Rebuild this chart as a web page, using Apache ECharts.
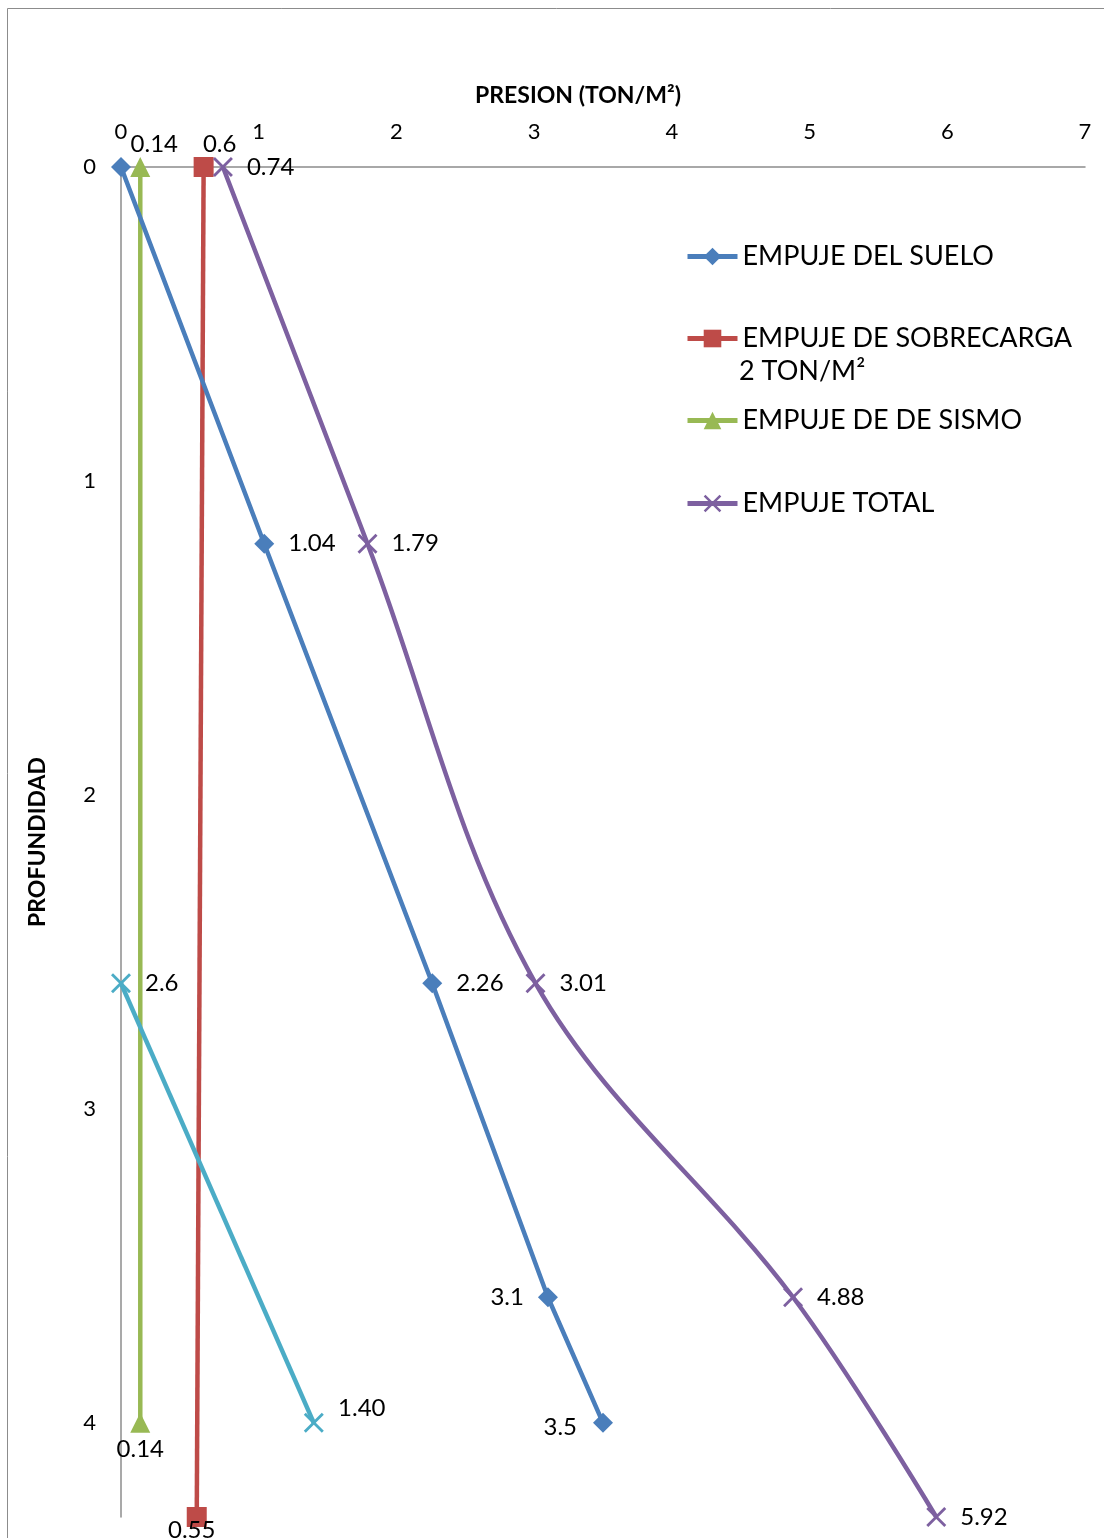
<!DOCTYPE html>
<html>
<head>
<meta charset="utf-8">
<script src="https://cdn.jsdelivr.net/npm/echarts@6/dist/echarts.min.js"></script>
<style>html,body{margin:0;padding:0;background:#fff}#c{width:1104px;height:1538px}</style>
</head>
<body>
<div id="c"></div>
<script>
// ---- data ----
const seriesNames = ['EMPUJE DEL SUELO', 'EMPUJE DE SOBRECARGA', 'EMPUJE DE DE SISMO', 'EMPUJE TOTAL', 'EMPUJE SISMO 2'];
const soilX = [0, 1.04, 2.26, 3.1, 3.5];
const soilY = [0, 1.2, 2.6, 3.6, 4.0];
const soilLabels = ['', '1.04', '2.26', '3.1', '3.5'];
const surX = [0.6, 0.55];
const surY = [0, 4.3];
const surLabels = ['0.6', '0.55'];
const sisX = [0.14, 0.14];
const sisY = [0, 4.0];
const sisLabels = ['0.14', '0.14'];
const totX = [0.74, 1.79, 3.01, 4.88, 5.92];
const totY = [0, 1.2, 2.6, 3.6, 4.3];
const totLabels = ['0.74', '1.79', '3.01', '4.88', '5.92'];
const cyX = [0, 1.40];
const cyY = [2.6, 4.0];
const cyLabels = ['2.6', '1.40'];
const xTicks = [0, 1, 2, 3, 4, 5, 6, 7];
const yTicks = [0, 1, 2, 3, 4];

// ---- styles ----
const FONT = 'Lato';
const crossPath = 'path://M0,1 L1,0 L5,4 L9,0 L10,1 L6,5 L10,9 L9,10 L5,6 L1,10 L0,9 L4,5 Z';
const R = {position: 'right', distance: 14};
const L = {position: 'left', distance: 14};
const T = (dx) => ({position: 'top', distance: 1, offset: [dx, 0]});
const B = {position: 'bottom', distance: 4};
const labelPlace = {
  soil: [R, R, R, L, {position: 'left', distance: 16, offset: [0, 4]}],
  sur: [T(16), {position: 'bottom', distance: -9, offset: [-5, 0]}],
  sis: [T(14), B],
  tot: [R, R, R, R, R],
  cy: [R, {position: 'top', distance: -7, offset: [48, 0]}]
};

function build(xs, ys, labels, places) {
  return xs.map((x, i) => ({
    value: [x, ys[i]],
    label: Object.assign({show: labels[i] !== '', formatter: labels[i]}, places[i])
  }));
}
const lblStyle = {color: '#000', fontSize: 24, fontFamily: FONT};

const chart = echarts.init(document.getElementById('c'), null, {renderer: 'canvas'});
const option = {
  backgroundColor: '#fff',
  animation: false,
  textStyle: {fontFamily: FONT},
  graphic: [
    {type: 'rect', shape: {x: 7.5, y: 8.5, width: 1200, height: 1600}, style: {fill: 'none', stroke: '#8c8c8c', lineWidth: 1}, silent: true},
    {type: 'text', left: 739, top: 358, style: {text: '2 TON/M²', fontSize: 27, fontFamily: FONT, fill: '#000'}}
  ],
  legend: [
    {data: [seriesNames[0]], left: 680, top: 238},
    {data: [seriesNames[1]], left: 680, top: 320},
    {data: [seriesNames[2]], left: 680, top: 402},
    {data: [seriesNames[3]], left: 680, top: 485}
  ].map(l => Object.assign(l, {
    orient: 'vertical', itemWidth: 50, itemHeight: 22, itemGap: 4,
    lineStyle: {width: 5},
    textStyle: {fontSize: 27, color: '#000', fontFamily: FONT}
  })),
  grid: {left: 121, right: 19, top: 167, bottom: 21, containLabel: false},
  xAxis: {
    type: 'value', position: 'top', min: xTicks[0], max: xTicks[xTicks.length - 1], interval: 1,
    name: 'PRESION (TON/M²)', nameLocation: 'middle', nameGap: 60,
    nameTextStyle: {fontSize: 23, fontWeight: 'bold', color: '#000', fontFamily: FONT, padding: [0, 50, 0, 0]},
    axisLine: {show: true, lineStyle: {color: '#8c8c8c', width: 1.5}},
    axisTick: {show: false}, splitLine: {show: false},
    axisLabel: {fontSize: 22, color: '#000', margin: 24, fontFamily: FONT}
  },
  yAxis: {
    type: 'value', inverse: true, min: yTicks[0], max: 4.3, interval: 1,
    name: 'PROFUNDIDAD', nameLocation: 'middle', nameGap: 72,
    nameTextStyle: {fontSize: 23, fontWeight: 'bold', color: '#000', fontFamily: FONT},
    axisLine: {show: true, onZero: false, lineStyle: {color: '#8c8c8c', width: 1.5}},
    axisTick: {show: false}, splitLine: {show: false},
    axisLabel: {fontSize: 22, color: '#000', margin: 25, fontFamily: FONT,
      formatter: v => (yTicks.indexOf(v) >= 0 ? String(v) : '')}
  },
  series: [
    {name: seriesNames[0], type: 'line', data: build(soilX, soilY, soilLabels, labelPlace.soil),
     symbol: 'diamond', symbolSize: 20, lineStyle: {width: 4.5, color: '#4a7ebb'}, itemStyle: {color: '#4a7ebb'},
     label: lblStyle, z: 4},
    {name: seriesNames[1], type: 'line', data: build(surX, surY, surLabels, labelPlace.sur),
     symbol: 'rect', symbolSize: 20, lineStyle: {width: 4.5, color: '#be4b48'}, itemStyle: {color: '#be4b48'},
     label: lblStyle, z: 3},
    {name: seriesNames[2], type: 'line', data: build(sisX, sisY, sisLabels, labelPlace.sis),
     symbol: 'triangle', symbolSize: 20, lineStyle: {width: 4.5, color: '#98b954'}, itemStyle: {color: '#98b954'},
     label: lblStyle, z: 2},
    {name: seriesNames[3], type: 'line', smooth: 0.35, data: build(totX, totY, totLabels, labelPlace.tot),
     symbol: crossPath, symbolSize: 20, lineStyle: {width: 4.5, color: '#7d60a0'}, itemStyle: {color: '#7d60a0'},
     label: lblStyle, z: 5},
    {name: seriesNames[4], type: 'line', data: build(cyX, cyY, cyLabels, labelPlace.cy),
     symbol: crossPath, symbolSize: 20, lineStyle: {width: 4.5, color: '#4bacc6'}, itemStyle: {color: '#4bacc6'},
     label: lblStyle, z: 6}
  ]
};
chart.setOption(option);
</script>
</body>
</html>
